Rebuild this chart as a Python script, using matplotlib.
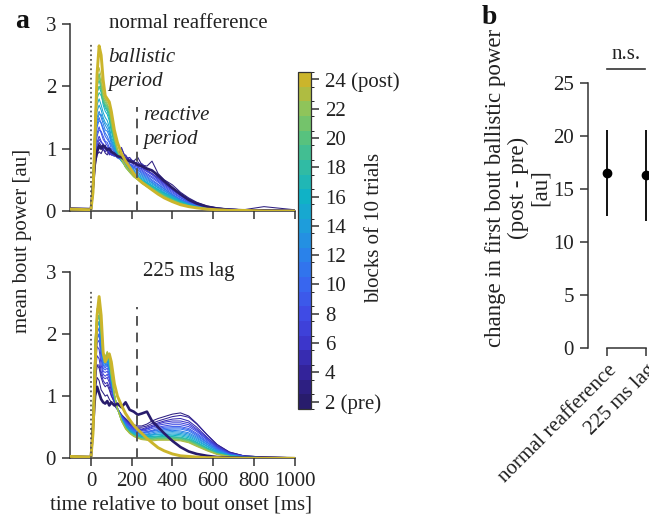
import numpy as np
import matplotlib
matplotlib.use('Agg')
import matplotlib.pyplot as plt
import matplotlib as mpl
from matplotlib.colors import LinearSegmentedColormap, ListedColormap, BoundaryNorm

plt.rcParams['font.family'] = ['Liberation Serif', 'DejaVu Serif']
plt.rcParams['font.size'] = 15

# ---------------- data ----------------
time_ms = [-100, 0, 10, 20, 30, 40, 50, 60, 70, 80, 90, 100, 115, 130, 150, 170, 190, 210, 230, 250,
           275, 300, 330, 360, 400, 440, 480, 520, 570, 620, 680, 750, 850, 1000]
blocks = list(range(2, 25))

# normal reafference, mean bout power per block
nr_02 = [0.04,0.03,0.4,0.8,0.95,1.05,1.0,1.05,1.02,0.98,1.0,0.95,0.92,0.88,0.86,0.82,0.8,0.78,0.74,0.72,0.68,0.65,0.57,0.48,0.37,0.27,0.18,0.12,0.07,0.04,0.02,0.01,0.01,0.0]
nr_03 = [0.04,0.03,0.25,0.7,0.9,0.95,0.92,1.0,0.93,0.9,0.97,0.9,0.95,0.87,1.0,0.86,0.83,0.8,0.86,0.74,0.72,0.8,0.6,0.5,0.42,0.3,0.21,0.14,0.08,0.05,0.03,0.02,0.07,0.02]
nr_04 = [0.03,0.02,0.3,0.8,1.0,1.1,1.05,0.98,1.06,0.95,0.92,0.96,0.9,0.95,0.86,0.9,0.8,0.76,0.79,0.7,0.66,0.6,0.53,0.45,0.35,0.25,0.18,0.12,0.07,0.04,0.03,0.02,0.02,0.01]
nr_05 = [0.03,0.02,0.3,0.75,0.95,1.0,1.05,1.0,0.95,1.0,0.9,0.92,0.88,0.9,1.02,0.84,0.86,0.78,0.75,0.76,0.68,0.64,0.55,0.47,0.37,0.27,0.19,0.12,0.07,0.05,0.03,0.02,0.02,0.01]
nr_06 = [0.03,0.02,0.35,0.85,1.1,1.2,1.12,1.05,1.0,1.02,0.95,0.9,0.92,0.86,0.88,0.82,0.8,0.74,0.72,0.7,0.64,0.6,0.52,0.44,0.34,0.25,0.17,0.11,0.07,0.04,0.03,0.02,0.01,0.01]
nr_07 = [0.03,0.02,0.3,0.8,1.05,1.15,1.1,1.08,1.0,0.97,0.98,0.9,0.88,0.9,0.85,0.84,0.78,0.8,0.7,0.68,0.63,0.58,0.5,0.42,0.33,0.24,0.16,0.1,0.06,0.04,0.02,0.02,0.01,0.01]
nr_08 = [0.03,0.02,0.35,0.95,1.25,1.35,1.25,1.15,1.1,1.05,1.0,0.95,0.9,0.87,0.92,0.8,0.76,0.72,0.7,0.66,0.6,0.55,0.48,0.4,0.31,0.22,0.15,0.1,0.06,0.04,0.02,0.01,0.01,0.01]
nr_09 = [0.03,0.02,0.35,0.9,1.2,1.3,1.28,1.2,1.12,1.1,1.02,0.98,0.9,0.85,0.82,0.78,0.75,0.7,0.68,0.64,0.58,0.53,0.46,0.38,0.29,0.21,0.14,0.09,0.05,0.03,0.02,0.01,0.01,0.0]
nr_10 = [0.03,0.02,0.4,1.05,1.4,1.5,1.4,1.3,1.2,1.15,1.1,1.0,0.95,0.88,0.86,0.8,0.74,0.7,0.66,0.62,0.56,0.5,0.43,0.36,0.27,0.19,0.13,0.08,0.05,0.03,0.02,0.01,0.01,0.0]
nr_11 = [0.03,0.02,0.4,1.0,1.35,1.45,1.42,1.33,1.25,1.2,1.12,1.05,0.95,0.9,0.84,0.78,0.74,0.68,0.65,0.6,0.54,0.48,0.42,0.35,0.26,0.18,0.12,0.08,0.05,0.03,0.02,0.01,0.01,0.0]
nr_12 = [0.03,0.02,0.4,1.1,1.5,1.6,1.5,1.4,1.3,1.28,1.2,1.08,0.98,0.9,0.82,0.76,0.72,0.66,0.62,0.58,0.52,0.46,0.4,0.33,0.25,0.17,0.12,0.07,0.04,0.03,0.02,0.01,0.0,0.0]
nr_13 = [0.03,0.02,0.4,1.1,1.45,1.55,1.55,1.45,1.38,1.32,1.25,1.12,1.0,0.9,0.8,0.74,0.7,0.64,0.6,0.56,0.5,0.45,0.38,0.32,0.24,0.17,0.11,0.07,0.04,0.03,0.02,0.01,0.0,0.0]
nr_14 = [0.03,0.02,0.45,1.2,1.6,1.7,1.62,1.5,1.42,1.38,1.3,1.15,1.02,0.9,0.8,0.73,0.68,0.62,0.58,0.54,0.48,0.43,0.37,0.3,0.23,0.16,0.11,0.07,0.04,0.02,0.01,0.01,0.0,0.0]
nr_15 = [0.03,0.02,0.45,1.25,1.7,1.8,1.7,1.58,1.5,1.45,1.35,1.2,1.05,0.92,0.8,0.72,0.66,0.6,0.56,0.52,0.46,0.41,0.35,0.29,0.22,0.15,0.1,0.06,0.04,0.02,0.01,0.01,0.0,0.0]
nr_16 = [0.03,0.02,0.5,1.35,1.9,2.0,1.9,1.7,1.6,1.55,1.45,1.28,1.1,0.95,0.82,0.73,0.66,0.6,0.55,0.5,0.45,0.4,0.34,0.28,0.21,0.15,0.1,0.06,0.04,0.02,0.01,0.01,0.0,0.0]
nr_17 = [0.03,0.02,0.5,1.4,2.05,2.2,2.0,1.75,1.65,1.6,1.5,1.3,1.1,0.95,0.82,0.72,0.65,0.58,0.54,0.49,0.44,0.39,0.33,0.27,0.2,0.14,0.09,0.06,0.04,0.02,0.01,0.01,0.0,0.0]
nr_18 = [0.03,0.02,0.45,1.3,1.8,1.9,1.85,1.75,1.68,1.62,1.55,1.35,1.12,0.96,0.83,0.72,0.65,0.58,0.53,0.48,0.43,0.38,0.32,0.26,0.19,0.13,0.09,0.06,0.03,0.02,0.01,0.01,0.0,0.0]
nr_19 = [0.03,0.02,0.5,1.4,2.0,2.1,1.95,1.75,1.7,1.65,1.55,1.35,1.12,0.95,0.82,0.71,0.64,0.57,0.52,0.47,0.42,0.37,0.31,0.25,0.18,0.13,0.09,0.05,0.03,0.02,0.01,0.01,0.0,0.0]
nr_20 = [0.03,0.02,0.5,1.35,1.9,2.0,1.95,1.8,1.72,1.68,1.6,1.4,1.15,0.97,0.82,0.7,0.63,0.56,0.51,0.46,0.41,0.36,0.3,0.24,0.18,0.12,0.08,0.05,0.03,0.02,0.01,0.01,0.0,0.0]
nr_21 = [0.03,0.02,0.55,1.5,2.1,2.2,2.05,1.82,1.75,1.7,1.62,1.42,1.16,0.97,0.82,0.7,0.62,0.55,0.5,0.45,0.4,0.35,0.29,0.23,0.17,0.12,0.08,0.05,0.03,0.02,0.01,0.01,0.0,0.0]
nr_22 = [0.03,0.02,0.5,1.45,2.05,2.15,2.05,1.85,1.78,1.72,1.65,1.45,1.18,0.98,0.83,0.7,0.62,0.55,0.5,0.45,0.39,0.34,0.28,0.22,0.16,0.11,0.08,0.05,0.03,0.02,0.01,0.01,0.0,0.0]
nr_23 = [0.03,0.02,0.55,1.55,2.2,2.3,2.15,1.9,1.8,1.75,1.7,1.5,1.2,1.0,0.84,0.72,0.63,0.55,0.5,0.44,0.39,0.34,0.28,0.22,0.16,0.11,0.07,0.05,0.03,0.02,0.01,0.01,0.0,0.0]
nr_24 = [0.03,0.02,0.3,1.2,2.2,2.65,2.5,2.1,1.85,1.8,1.75,1.6,1.3,1.1,0.92,0.8,0.7,0.6,0.52,0.46,0.4,0.34,0.27,0.21,0.15,0.1,0.07,0.05,0.03,0.02,0.01,0.01,0.0,0.0]

# 225 ms lag, mean bout power per block
lag_02 = [0.03,0.02,0.5,1.0,1.15,1.05,0.95,0.9,0.88,0.92,0.85,0.9,0.85,0.88,0.82,0.9,0.78,0.75,0.7,0.72,0.75,0.6,0.5,0.4,0.28,0.18,0.11,0.07,0.04,0.02,0.01,0.01,0.01,0.0]
lag_03 = [0.03,0.02,0.4,1.05,1.3,1.25,1.1,1.05,1.0,1.02,0.95,0.9,0.85,0.78,0.7,0.64,0.58,0.54,0.52,0.52,0.55,0.6,0.64,0.67,0.71,0.73,0.68,0.56,0.38,0.22,0.1,0.04,0.02,0.01]
lag_04 = [0.03,0.02,0.45,1.2,1.5,1.45,1.3,1.2,1.15,1.18,1.1,1.0,0.9,0.8,0.7,0.62,0.56,0.52,0.5,0.5,0.52,0.56,0.6,0.63,0.67,0.69,0.66,0.55,0.38,0.22,0.1,0.04,0.02,0.01]
lag_05 = [0.03,0.02,0.45,1.2,1.5,1.5,1.35,1.25,1.2,1.22,1.15,1.02,0.9,0.8,0.7,0.62,0.55,0.5,0.48,0.47,0.5,0.53,0.57,0.6,0.63,0.64,0.6,0.5,0.34,0.2,0.09,0.04,0.02,0.01]
lag_06 = [0.03,0.02,0.5,1.3,1.65,1.6,1.4,1.3,1.28,1.3,1.22,1.08,0.92,0.8,0.68,0.6,0.54,0.5,0.47,0.46,0.48,0.51,0.55,0.58,0.6,0.6,0.57,0.47,0.33,0.19,0.08,0.03,0.01,0.0]
lag_07 = [0.03,0.02,0.5,1.4,1.8,1.75,1.5,1.35,1.32,1.35,1.28,1.12,0.95,0.8,0.68,0.6,0.53,0.48,0.46,0.45,0.47,0.5,0.53,0.55,0.57,0.57,0.54,0.45,0.31,0.18,0.08,0.03,0.01,0.0]
lag_08 = [0.03,0.02,0.5,1.45,1.85,1.9,1.6,1.4,1.38,1.4,1.32,1.15,0.96,0.8,0.67,0.58,0.52,0.47,0.45,0.44,0.45,0.48,0.5,0.52,0.54,0.54,0.51,0.43,0.3,0.17,0.07,0.03,0.01,0.0]
lag_09 = [0.03,0.02,0.5,1.45,1.9,2.0,1.7,1.45,1.42,1.45,1.35,1.18,0.97,0.8,0.66,0.57,0.5,0.46,0.43,0.42,0.43,0.45,0.48,0.5,0.51,0.51,0.48,0.4,0.28,0.16,0.07,0.03,0.01,0.0]
lag_10 = [0.03,0.02,0.55,1.5,2.0,2.1,1.8,1.5,1.45,1.5,1.4,1.2,0.98,0.8,0.66,0.56,0.49,0.45,0.42,0.41,0.42,0.44,0.46,0.48,0.49,0.49,0.46,0.38,0.26,0.15,0.06,0.03,0.01,0.0]
lag_11 = [0.03,0.02,0.55,1.45,1.95,2.0,1.75,1.5,1.48,1.52,1.42,1.22,0.98,0.8,0.65,0.55,0.48,0.44,0.41,0.4,0.41,0.43,0.45,0.46,0.47,0.47,0.44,0.36,0.25,0.14,0.06,0.02,0.01,0.0]
lag_12 = [0.03,0.02,0.55,1.6,2.1,2.2,1.85,1.55,1.5,1.55,1.45,1.24,0.99,0.8,0.64,0.54,0.47,0.43,0.4,0.39,0.39,0.41,0.43,0.44,0.45,0.44,0.41,0.34,0.23,0.13,0.05,0.02,0.01,0.0]
lag_13 = [0.03,0.02,0.55,1.6,2.1,2.2,1.9,1.58,1.52,1.57,1.48,1.26,1.0,0.8,0.64,0.53,0.46,0.42,0.39,0.38,0.38,0.39,0.41,0.42,0.43,0.42,0.39,0.32,0.22,0.12,0.05,0.02,0.01,0.0]
lag_14 = [0.03,0.02,0.6,1.7,2.2,2.3,1.95,1.6,1.55,1.6,1.5,1.28,1.0,0.8,0.63,0.52,0.45,0.41,0.38,0.37,0.37,0.38,0.39,0.4,0.41,0.4,0.37,0.3,0.2,0.11,0.05,0.02,0.01,0.0]
lag_15 = [0.03,0.02,0.6,1.7,2.2,2.3,2.0,1.62,1.55,1.62,1.52,1.28,1.0,0.8,0.62,0.51,0.44,0.4,0.37,0.36,0.36,0.37,0.38,0.38,0.39,0.38,0.35,0.28,0.19,0.1,0.04,0.02,0.01,0.0]
lag_16 = [0.03,0.02,0.6,1.7,2.25,2.3,2.0,1.62,1.58,1.65,1.54,1.3,1.0,0.8,0.62,0.5,0.43,0.39,0.36,0.35,0.35,0.35,0.36,0.37,0.37,0.36,0.33,0.26,0.17,0.09,0.04,0.02,0.01,0.0]
lag_17 = [0.03,0.02,0.65,1.8,2.3,2.4,2.05,1.65,1.58,1.65,1.55,1.3,1.0,0.8,0.62,0.5,0.43,0.38,0.35,0.34,0.34,0.34,0.35,0.35,0.35,0.34,0.31,0.25,0.16,0.09,0.04,0.02,0.01,0.0]
lag_18 = [0.03,0.02,0.6,1.75,2.2,2.3,2.0,1.65,1.6,1.68,1.58,1.32,1.02,0.8,0.62,0.5,0.42,0.38,0.35,0.33,0.33,0.33,0.34,0.34,0.34,0.33,0.3,0.24,0.16,0.08,0.04,0.02,0.01,0.0]
lag_19 = [0.03,0.02,0.65,1.8,2.3,2.4,2.05,1.66,1.6,1.68,1.58,1.32,1.02,0.8,0.61,0.49,0.42,0.37,0.34,0.32,0.32,0.32,0.33,0.33,0.33,0.32,0.29,0.23,0.15,0.08,0.03,0.01,0.01,0.0]
lag_20 = [0.03,0.02,0.65,1.8,2.3,2.4,2.05,1.66,1.62,1.7,1.6,1.34,1.02,0.8,0.61,0.49,0.41,0.37,0.34,0.32,0.31,0.31,0.32,0.32,0.32,0.31,0.28,0.22,0.14,0.07,0.03,0.01,0.01,0.0]
lag_21 = [0.03,0.02,0.65,1.85,2.35,2.4,2.1,1.68,1.62,1.7,1.6,1.34,1.02,0.8,0.6,0.48,0.41,0.36,0.33,0.31,0.3,0.3,0.31,0.31,0.31,0.3,0.27,0.21,0.13,0.07,0.03,0.01,0.01,0.0]
lag_22 = [0.03,0.02,0.7,1.9,2.4,2.5,2.15,1.7,1.62,1.7,1.62,1.36,1.03,0.8,0.6,0.48,0.4,0.36,0.33,0.31,0.3,0.29,0.3,0.3,0.3,0.29,0.26,0.2,0.13,0.07,0.03,0.01,0.01,0.0]
lag_23 = [0.03,0.02,0.7,1.9,2.4,2.5,2.15,1.7,1.62,1.72,1.62,1.36,1.03,0.8,0.6,0.47,0.4,0.35,0.32,0.3,0.29,0.28,0.29,0.29,0.29,0.28,0.25,0.19,0.12,0.06,0.03,0.01,0.01,0.0]
lag_24 = [0.03,0.02,0.4,1.4,2.3,2.6,2.3,1.7,1.55,1.62,1.68,1.55,1.2,1.0,0.85,0.72,0.62,0.53,0.46,0.4,0.32,0.25,0.17,0.12,0.07,0.04,0.03,0.02,0.01,0.01,0.0,0.0,0.0,0.0]

nr_curves = [nr_02, nr_03, nr_04, nr_05, nr_06, nr_07, nr_08, nr_09, nr_10, nr_11, nr_12, nr_13,
             nr_14, nr_15, nr_16, nr_17, nr_18, nr_19, nr_20, nr_21, nr_22, nr_23, nr_24]
lag_curves = [lag_02, lag_03, lag_04, lag_05, lag_06, lag_07, lag_08, lag_09, lag_10, lag_11, lag_12, lag_13,
              lag_14, lag_15, lag_16, lag_17, lag_18, lag_19, lag_20, lag_21, lag_22, lag_23, lag_24]

cb_ticks = [2, 4, 6, 8, 10, 12, 14, 16, 18, 20, 22, 24]
cb_ticklabels = ['2 (pre)', '4', '6', '8', '10', '12', '14', '16', '18', '20', '22', '24 (post)']

conditions = ['normal reafference', '225 ms lag']
change_mean = [16.55, 16.35]
change_low = [12.45, 12.0]
change_high = [20.6, 20.6]

# ---------------- style ----------------
W, H = 649, 518
fig = plt.figure(figsize=(W / 100, H / 100), dpi=100)
TXT = '#222222'
SP = '#333333'

anchor = ['#281c6c', '#33239a', '#3c36cc', '#3f4ce6', '#3866ef', '#2a82ea', '#1e9ddb',
          '#10b2c6', '#2fbba5', '#56c27f', '#8fc45a', '#cbb52b']
cmap_c = LinearSegmentedColormap.from_list('par', anchor)
ncol = len(blocks)
colors = [cmap_c(i / (ncol - 1)) for i in range(ncol)]


def fx(px):
    return px / W


def fy(py):
    return 1 - py / H


def style_ax(ax):
    for s in ['top', 'right']:
        ax.spines[s].set_visible(False)
    for s in ['left', 'bottom']:
        ax.spines[s].set_color(SP)
        ax.spines[s].set_linewidth(1.1)
    ax.tick_params(direction='out', length=6, width=1.1, color=SP, labelcolor=TXT, pad=4)


ax_top = fig.add_axes([fx(70), fy(211), fx(224.5), 187 / H])
ax_bot = fig.add_axes([fx(70), fy(458.3), fx(224.5), 186.6 / H])

for ax, curves, dash_top, title in [(ax_top, nr_curves, 1.67, 'normal reafference'),
                                    (ax_bot, lag_curves, 2.44, '225 ms lag')]:
    style_ax(ax)
    for i in range(1, ncol - 1):
        ax.plot(time_ms, curves[i], color=colors[i], lw=0.75, zorder=2)
    ax.plot(time_ms, curves[0], color=colors[0], lw=1.9, zorder=3)
    ax.plot(time_ms, curves[-1], color=colors[-1], lw=2.1, zorder=4)
    ax.plot([0, 0], [0, 2.7], color='#555555', lw=1.3, ls=(0, (1, 1.6)), zorder=5)
    ax.plot([225, 225], [0, dash_top], color='#555555', lw=1.4, ls=(0, (5, 3.5)), zorder=5)
    ax.set_xlim(-103, 1000)
    ax.set_ylim(0, 3)
    ax.spines['left'].set_bounds(0, 3)
    ax.set_yticks([0, 1, 2, 3])
    ax.set_xticks([0, 200, 400, 600, 800, 1000])
    ax.text(480, 3.0, title, ha='center', va='center', color=TXT)

ax_top.set_xticklabels([])
ax_top.text(84, 2.47, 'ballistic', style='italic', ha='left', va='center', color=TXT)
ax_top.text(84, 2.07, 'period', style='italic', ha='left', va='center', color=TXT)
ax_top.text(257, 1.54, 'reactive', style='italic', ha='left', va='center', color=TXT)
ax_top.text(257, 1.14, 'period', style='italic', ha='left', va='center', color=TXT)

fig.text(fx(181), fy(505), 'time relative to bout onset [ms]', ha='center', va='center', color=TXT)
fig.text(fx(23), fy(241), 'mean bout power [au]', rotation=90, ha='center', va='center', color=TXT)
fig.text(fx(22), fy(21), 'a', fontsize=20, fontweight='bold', ha='center', va='center', color='#111111')
fig.text(fx(489), fy(18), 'b', fontsize=20, fontweight='bold', ha='center', va='center', color='#111111')

# colorbar
cax = fig.add_axes([fx(298), fy(409), fx(13), 337 / H])
edges = np.arange(1.5, 25.5, 1.0)
cmap_d = ListedColormap(colors)
norm = BoundaryNorm(edges, cmap_d.N)
sm = mpl.cm.ScalarMappable(norm=norm, cmap=cmap_d)
cb = fig.colorbar(sm, cax=cax, ticks=cb_ticks)
cb.set_ticklabels(cb_ticklabels)
cb.outline.set_edgecolor(SP)
cb.outline.set_linewidth(0.9)
cax.tick_params(direction='out', length=6, width=1.1, color=SP, labelcolor=TXT, pad=4)
fig.text(fx(375), fy(228), 'blocks of 10 trials', rotation=90, ha='center', va='center', color=TXT)

# panel b
axb = fig.add_axes([fx(588), fy(348), fx(61), 265 / H])
style_ax(axb)
xpos = np.arange(len(conditions))
mean = np.array(change_mean)
yerr = [mean - np.array(change_low), np.array(change_high) - mean]
axb.errorbar(xpos, mean, yerr=yerr, fmt='o', color='black', ms=6, elinewidth=1.3,
             capsize=0, clip_on=False, zorder=5)
axb.set_xlim(-0.487, 1.077)
axb.set_ylim(0, 25)
axb.spines['left'].set_bounds(0, 25)
axb.spines['bottom'].set_bounds(0, 1)
axb.set_yticks([0, 5, 10, 15, 20, 25])
axb.set_xticks(xpos)
axb.set_xticklabels(conditions, rotation=45, ha='right', va='top', rotation_mode='anchor')
axb.tick_params(axis='x', length=6, pad=3)
axb.plot([0, 0.97], [26.3, 26.3], color=SP, lw=1.2, clip_on=False)
axb.text(0.485, 26.8, 'n.s.', ha='center', va='bottom', color=TXT)
fig.text(fx(518), fy(188), 'change in first bout ballistic power\n(post - pre)\n[au]',
         rotation=90, ha='center', va='center', multialignment='center', linespacing=1.1,
         fontsize=16.5, color=TXT)

fig.savefig('out.png', dpi=100)
